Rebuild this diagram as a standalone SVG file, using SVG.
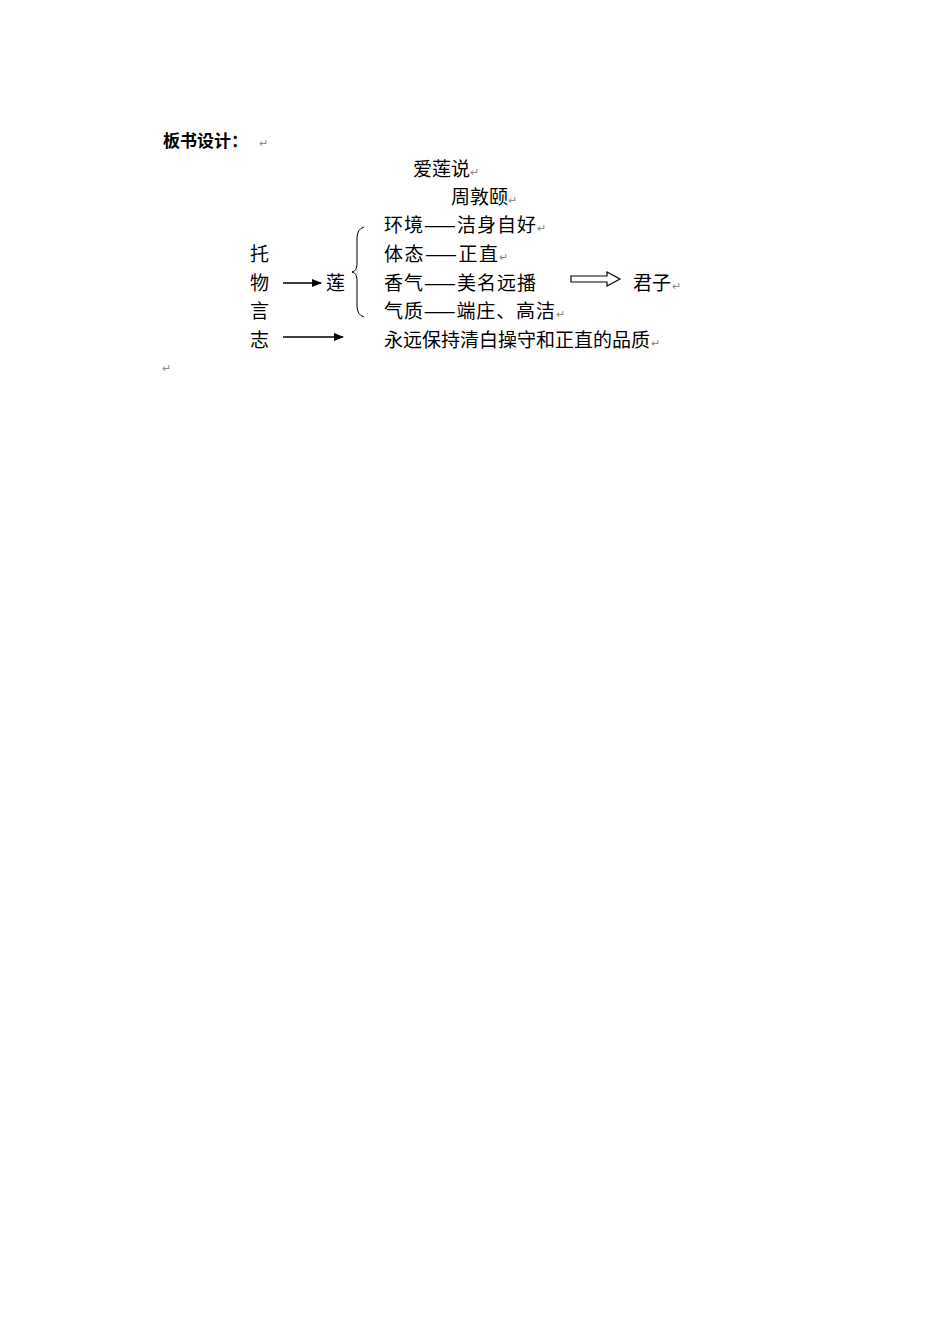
<svg xmlns="http://www.w3.org/2000/svg" width="950" height="1342" viewBox="0 0 950 1342">
<style>
text{font-family:"Noto Sans CJK SC","Noto Sans",sans-serif;font-size:19px;fill:#000}
.b{font-weight:bold;font-size:17px}
.m{font-size:11px;fill:#888}
.ln{stroke:#000;stroke-width:1.5;fill:none}
</style>
<defs>
<marker id="ah" markerWidth="10" markerHeight="8" refX="9" refY="4" orient="auto" markerUnits="userSpaceOnUse">
<path d="M0,0 L10,4 L0,8 Z" fill="#000"/>
</marker>
</defs>
<rect width="950" height="1342" fill="#fff"/>
<g id="title"><text class="b" x="163" y="147">板书设计：</text><text class="m" x="259" y="147">↵</text></g>
<g id="heading"><text x="413" y="176" textLength="57" lengthAdjust="spacing">爱莲说</text><text class="m" x="470" y="176">↵</text></g>
<g id="author"><text x="451" y="204" textLength="57" lengthAdjust="spacing">周敦颐</text><text class="m" x="508" y="204">↵</text></g>
<g id="left">
<text x="250" y="261">托</text>
<text x="250" y="290">物</text>
<text x="250" y="318">言</text>
<text x="250" y="347">志</text>
</g>
<g id="lian"><text x="326" y="290">莲</text></g>
<g id="items">
<text x="384" y="232" textLength="152" lengthAdjust="spacing">环境——洁身自好</text><text class="m" x="537" y="232">↵</text>
<text x="384" y="261" textLength="114" lengthAdjust="spacing">体态——正直</text><text class="m" x="499" y="261">↵</text>
<text x="384" y="290" textLength="152" lengthAdjust="spacing">香气——美名远播</text>
<text x="384" y="318" textLength="171" lengthAdjust="spacing">气质——端庄、高洁</text><text class="m" x="556" y="318">↵</text>
<text x="384" y="347" textLength="266" lengthAdjust="spacing">永远保持清白操守和正直的品质</text><text class="m" x="651" y="347">↵</text>
</g>
<g id="junzi"><text x="633" y="290" textLength="38" lengthAdjust="spacing">君子</text><text class="m" x="672" y="290">↵</text></g>
<g id="connectors">
<line class="ln" x1="283" y1="283" x2="321" y2="283" marker-end="url(#ah)"/>
<line class="ln" x1="283" y1="337" x2="343" y2="337" marker-end="url(#ah)"/>
<path d="M364,227 Q357,229 357,238 L357,264 Q357,271 352,272 Q357,273 357,280 L357,306 Q357,315 364,317" stroke="#000" stroke-width="1" fill="none"/>
<path d="M571,276 L607,276 L607,272 L620,279 L607,286 L607,282 L571,282 Z" stroke="#000" stroke-width="1.2" fill="#fff"/>
</g>
<text class="m" x="162" y="372">↵</text>
</svg>
